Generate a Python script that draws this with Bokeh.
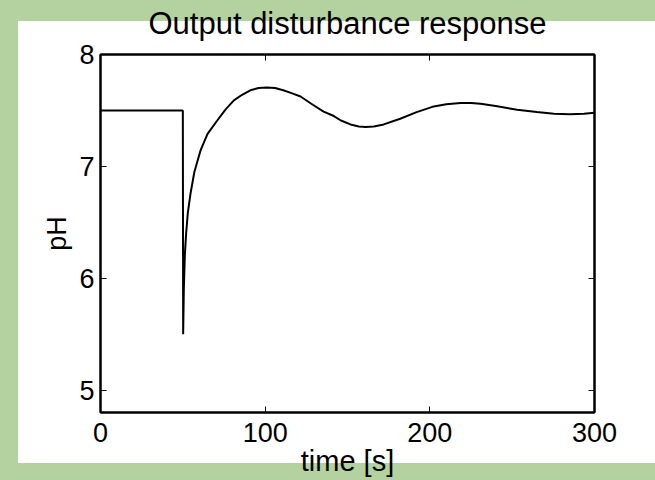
from bokeh.plotting import figure
from bokeh.models import LinearAxis, FixedTicker, Range1d
from bokeh.embed import file_html
from bokeh.resources import INLINE

# Data
time_s = [0, 50, 50.2, 50.6, 51.2, 52, 53, 54.7, 57, 60.7, 65, 70.9, 76, 81, 86,
          91, 96, 101, 106, 111, 116, 121.5, 128, 135.5, 141.7, 146, 151.8, 156.9,
          161, 166, 172, 182, 192, 202.4, 210, 218.6, 225, 230.8, 240, 253, 265,
          275.3, 285, 293.6, 300]
ph = [7.5, 7.5, 5.5, 5.9, 6.2, 6.4, 6.58, 6.76, 6.95, 7.14, 7.29, 7.41, 7.51, 7.59,
      7.64, 7.68, 7.70, 7.705, 7.70, 7.68, 7.655, 7.625, 7.56, 7.49, 7.45, 7.41,
      7.375, 7.357, 7.352, 7.357, 7.375, 7.426, 7.485, 7.536, 7.555, 7.566, 7.566,
      7.56, 7.54, 7.506, 7.485, 7.47, 7.465, 7.47, 7.48]
x_ticks = [0, 100, 200, 300]
y_ticks = [5, 6, 7, 8]
title_text = "Output disturbance response"

GREEN = "#b3d2a0"
FONT = "Liberation Sans"
SLIDE_BG = ("linear-gradient(#ffffff, #ffffff) 18px 21px / 800px 442px no-repeat, "
            + GREEN)

p = figure(width=655, height=480, output_backend="svg", toolbar_location=None,
           x_range=Range1d(0, 300), y_range=Range1d(4.8, 8),
           min_border_left=100, min_border_right=61, min_border_top=54,
           min_border_bottom=68, border_fill_color=None,
           background_fill_color="white")
# slide look: white sheet on a green background
p.styles = {"background": SLIDE_BG}

p.line(time_s, ph, line_color="black", line_width=2)

p.grid.visible = False
p.outline_line_color = "black"
p.outline_line_width = 2

for ax in (p.xaxis[0], p.yaxis[0]):
    ax.major_tick_in = 6
    ax.major_tick_out = 0
    ax.minor_tick_line_color = None
    ax.axis_line_color = "black"
    ax.axis_line_width = 2
    ax.major_tick_line_color = "black"
    ax.major_label_text_font = FONT
    ax.major_label_text_font_size = "27px"
    ax.major_label_text_color = "black"
    ax.axis_label_text_font = FONT
    ax.axis_label_text_font_style = "normal"
    ax.axis_label_text_color = "black"

p.xaxis[0].ticker = FixedTicker(ticks=x_ticks)
p.yaxis[0].ticker = FixedTicker(ticks=y_ticks)
p.xaxis[0].major_label_standoff = 10
p.yaxis[0].major_label_standoff = 6
p.xaxis[0].axis_label = "time [s]"
p.xaxis[0].axis_label_text_font_size = "29px"
p.xaxis[0].axis_label_standoff = 0
p.yaxis[0].axis_label = "pH"
p.yaxis[0].axis_label_text_font_size = "27px"
p.yaxis[0].axis_label_standoff = 4

right = LinearAxis(ticker=FixedTicker(ticks=y_ticks), major_tick_in=6, major_tick_out=0,
                   minor_tick_line_color=None, major_label_text_font_size="1px",
                   major_label_text_color=None, major_label_standoff=0,
                   axis_line_color="black", axis_line_width=2)
# top axis carries the chart title as its label
top = LinearAxis(ticker=FixedTicker(ticks=x_ticks), major_tick_in=6, major_tick_out=0,
                 minor_tick_line_color=None, major_label_text_font_size="1px",
                 major_label_text_color=None, major_label_standoff=0,
                 axis_line_color="black", axis_line_width=2,
                 axis_label=title_text, axis_label_text_font=FONT,
                 axis_label_text_font_size="31px", axis_label_text_font_style="normal",
                 axis_label_text_color="black", axis_label_standoff=14)
p.add_layout(right, "right")
p.add_layout(top, "above")

html = file_html(p, INLINE)
html = html.replace("<body>", '<body style="background:%s;">' % SLIDE_BG, 1)
open("out.html", "w").write(html)
